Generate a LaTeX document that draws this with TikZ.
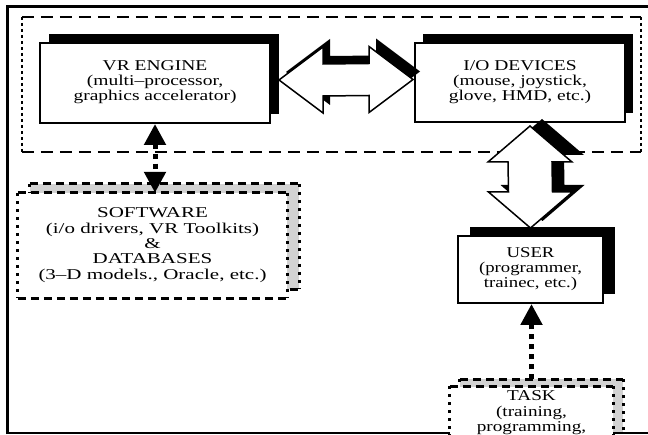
\documentclass[tikz,border=0pt]{standalone}
\usepackage{fontspec}
\usepackage{graphicx}
\setmainfont{Liberation Serif}
\newcommand\btext[2]{\scalebox{#1}[1]{\begin{tabular}{@{}c@{}}#2\end{tabular}}}
\usetikzlibrary{calc,shadows,arrows.meta}
\pgfdeclarelayer{background}
\pgfsetlayers{background,main}
\newcommand\hpoly[2]{($(hl)+(#1,#2)$) -- ($(hl)+(44+#1,33+#2)$) -- ($(hl)+(44+#1,16+#2)$) -- ($(hr)+(-44+#1,16+#2)$) -- ($(hr)+(-44+#1,33+#2)$) -- ($(hr)+(#1,#2)$) -- ($(hr)+(-44+#1,-33+#2)$) -- ($(hr)+(-44+#1,-16+#2)$) -- ($(hl)+(44+#1,-16+#2)$) -- ($(hl)+(44+#1,-33+#2)$) -- cycle}
\newcommand\vpoly[2]{($(vt)+(#1,#2)$) -- ($(vt)+(42+#1,-36+#2)$) -- ($(vt)+(22+#1,-36+#2)$) -- ($(vb)+(22+#1,36+#2)$) -- ($(vb)+(42+#1,36+#2)$) -- ($(vb)+(#1,#2)$) -- ($(vb)+(-42+#1,36+#2)$) -- ($(vb)+(-22+#1,36+#2)$) -- ($(vt)+(-22+#1,-36+#2)$) -- ($(vt)+(-42+#1,-36+#2)$) -- cycle}
\begin{document}
\begin{tikzpicture}[x=1pt,y=1pt,
  solidbox/.style={draw, line width=2pt, fill=white, align=center, inner sep=0pt,
    font=\fontsize{15pt}{15pt}\selectfont},
  dbox/.style={fill=white, align=center, inner sep=0pt,
    font=\fontsize{15pt}{15.3pt}\selectfont},
  reghdash/.style={line width=1.6pt, dash pattern=on 12pt off 7pt},
  regvdot/.style={line width=2pt, dash pattern=on 3pt off 3pt},
  bhdash/.style={line width=3pt, dash pattern=on 8pt off 5pt},
  bvdot/.style={line width=3pt, dash pattern=on 3pt off 5pt},
  dotline/.style={line width=5pt, dash pattern=on 5pt off 5pt, >={Triangle[width=21pt,length=21pt]}},
  hollow/.style={fill=white, draw=black, line width=1.5pt, line join=miter}
]
\useasboundingbox (0,0) rectangle (648,434);
\clip (0,0) rectangle (648,434);
% frame
\draw[line width=2.5pt] (7.5,0) -- (7.5,427.5) -- (648,427.5);
\draw[line width=1.5pt] (7.5,0.8) -- (648,0.8);
% dashed region
\node[minimum width=619pt, minimum height=135pt, inner sep=0pt] (reg) at (331.5,349.5) {};
\draw[reghdash] (reg.north west) -- (reg.north east);
\draw[reghdash] (reg.south west) -- (reg.south east);
\draw[regvdot] (reg.north west) -- (reg.south west);
\draw[regvdot] (reg.north east) -- (reg.south east);
% solid boxes
\node[solidbox, minimum width=230pt, minimum height=80pt,
  drop shadow={shadow xshift=9pt, shadow yshift=9pt, fill=black, opacity=1}]
  (vr) at (155,351) {\raisebox{3pt}{\btext{1.3}{VR ENGINE\\(multi\textendash processor,\\graphics accelerator)}}};
\node[solidbox, minimum width=210pt, minimum height=79pt,
  drop shadow={shadow xshift=8pt, shadow yshift=9pt, fill=black, opacity=1}]
  (io) at (520,351.5) {\raisebox{2pt}{\btext{1.3}{I/O DEVICES\\(mouse, joystick,\\glove, HMD, etc.)}}};
\node[solidbox, minimum width=145pt, minimum height=67pt,
  drop shadow={shadow xshift=12pt, shadow yshift=9pt, fill=black, opacity=1}]
  (user) at (530.5,164.5) {\btext{1.25}{USER\\(programmer,\\trainec, etc.)}};
% dashed boxes
\node[dbox, minimum width=269pt, minimum height=105pt]
  (sw) at (152.5,188.5) {\btext{1.4}{SOFTWARE\\(i/o drivers, VR Toolkits)\\\&\\DATABASES\\(3\textendash D models., Oracle, etc.)}};
\node[dbox, minimum width=163pt, minimum height=53pt]
  (task) at (531.5,21) {\btext{1.28}{TASK\\(training,\\programming,}};
\begin{pgfonlayer}{background}
  \fill[gray!35] ([shift={(12,9)}]sw.south west) rectangle ([shift={(12,9)}]sw.north east);
  \draw[bhdash] ([shift={(12,9)}]sw.north west) -- ([shift={(12,9)}]sw.north east);
  \draw[bhdash] ([shift={(12,9)}]sw.south west) -- ([shift={(12,9)}]sw.south east);
  \draw[bvdot] ([shift={(12,9)}]sw.north east) -- ([shift={(12,9)}]sw.south east);
  \draw[bvdot] ([shift={(12,9)}]sw.north west) -- ([shift={(12,9)}]sw.south west);
  \fill[gray!35] ([shift={(10,7)}]task.south west) rectangle ([shift={(10,7)}]task.north east);
  \draw[bhdash] ([shift={(10,7)}]task.north west) -- ([shift={(10,7)}]task.north east);
  \draw[bvdot] ([shift={(10,7)}]task.north east) -- ([shift={(10,7)}]task.south east);
  \draw[bvdot] ([shift={(10,7)}]task.north west) -- ([shift={(10,7)}]task.south west);
\end{pgfonlayer}
\draw[bhdash] (sw.north west) -- (sw.north east);
\draw[bhdash] (sw.south west) -- (sw.south east);
\draw[bvdot] (sw.north west) -- (sw.south west);
\draw[bvdot] (sw.north east) -- (sw.south east);
\draw[bhdash] (task.north west) -- (task.north east);
\draw[bvdot] (task.north west) -- (task.south west);
\draw[bvdot] (task.north east) -- (task.south east);
% hollow 3D double arrows
\coordinate (hl) at ([shift={(8,3)}]vr.east);
\coordinate (hr) at ([shift={(-1,3)}]io.west);
\fill[black] \hpoly{7}{8};
\draw[hollow] \hpoly{0}{0};
\coordinate (vt) at ([shift={(10,-3)}]io.south);
\coordinate (vb) at ([shift={(0,7)}]user.north);
\fill[black] \vpoly{12}{7};
\draw[hollow] \vpoly{0}{0};
% dotted arrows
\draw[dotline, <->] (vr.south) -- (vr.south |- sw.north);
\draw[dotline, ->] ([shift={(0,7)}]task.north) -- (task.north |- user.south);
\end{tikzpicture}
\end{document}
